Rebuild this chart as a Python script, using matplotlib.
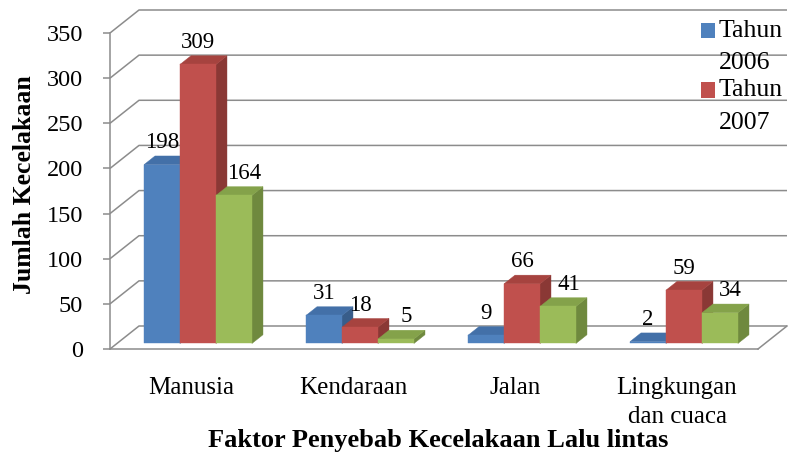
import matplotlib
matplotlib.use("Agg")
import matplotlib.pyplot as plt
from matplotlib.patches import Polygon, Rectangle
from matplotlib.legend_handler import HandlerPatch

# ---- data ----
categories = ["Manusia", "Kendaraan", "Jalan", "Lingkungan\ndan cuaca"]
series_names = ["Tahun\n2006", "Tahun\n2007"]
tahun_2006 = [198, 31, 9, 2]
tahun_2007 = [309, 18, 66, 59]
tahun_2008 = [164, 5, 41, 34]
y_ticks = [0, 50, 100, 150, 200, 250, 300, 350]
x_title = "Faktor Penyebab Kecelakaan Lalu lintas"
y_title = "Jumlah Kecelakaan"

plt.rcParams['font.family'] = ['Liberation Serif', 'DejaVu Serif']

front_c = ['#4F81BD', '#C0504D', '#9BBB59']
side_c = ['#385D8A', '#8A3835', '#6F893E']
top_c = ['#4370A8', '#A6433F', '#84A24A']
grid_c = '#8C8C8C'
lw = 1.1

fig = plt.figure(figsize=(7.9, 4.57), dpi=100)
ax = fig.add_axes([110 / 790, 108 / 457, 648 / 790, 316 / 457])
ax.set_xlim(-0.5, 3.5)
ax.set_ylim(0, 350)

PX_X = 648 / 4
PX_Y = 316 / 350
DX = 29 / PX_X
DY = 23 / PX_Y
f0, f1 = 0.24, 0.62
bw = 1 / 4.5

# back wall grid + side wall diagonals
for v in y_ticks:
    ax.plot([-0.5, -0.5 + DX, 3.5 + DX], [v, v + DY, v + DY], color=grid_c, lw=lw,
            clip_on=False, zorder=1, solid_capstyle='butt')
# floor right edge
ax.plot([3.5, 3.5 + DX], [0, DY], color=grid_c, lw=lw, clip_on=False, zorder=1)

series = [tahun_2006, tahun_2007, tahun_2008]
label_dx = [0.0, 0.0, 0.065]
for i in range(len(categories)):
    for s, vals in enumerate(series):
        v = vals[i]
        x0 = i - 1.5 * bw + s * bw
        x1 = x0 + bw
        fx0, fx1 = x0 + f0 * DX, x1 + f0 * DX
        bx0, bx1 = x0 + f1 * DX, x1 + f1 * DX
        fy, by = f0 * DY, f1 * DY
        ax.add_patch(Polygon([(fx1, fy), (bx1, by), (bx1, v + by), (fx1, v + fy)],
                             closed=True, facecolor=side_c[s], edgecolor=side_c[s],
                             lw=0.3, clip_on=False, zorder=2))
        ax.add_patch(Polygon([(fx0, v + fy), (fx1, v + fy), (bx1, v + by), (bx0, v + by)],
                             closed=True, facecolor=top_c[s], edgecolor=top_c[s],
                             lw=0.3, clip_on=False, zorder=2))
        ax.add_patch(Rectangle((fx0, fy), bw, v, facecolor=front_c[s], edgecolor=front_c[s],
                               lw=0.3, clip_on=False, zorder=2))
        ax.text((fx0 + fx1) / 2 + label_dx[s], v + fy + 22 / PX_Y, str(v),
                ha='center', va='center', fontsize=16.5, color='black', zorder=5)

# axes styling
for sp in ['top', 'right']:
    ax.spines[sp].set_visible(False)
for sp in ['left', 'bottom']:
    ax.spines[sp].set_color(grid_c)
    ax.spines[sp].set_linewidth(lw)
ax.set_yticks(y_ticks)
ax.set_yticklabels([str(t) for t in y_ticks])
ax.set_xticks(range(len(categories)))
ax.set_xticklabels(categories, linespacing=1.43)
ax.tick_params(axis='y', color=grid_c, length=5, width=lw, pad=14.5, labelsize=17.5,
               labelcolor='black')
ax.tick_params(axis='x', length=0, pad=20, labelsize=18, labelcolor='black')

ax.set_xlabel(x_title, fontsize=19, fontweight='bold')
ax.xaxis.set_label_coords(0.507, -0.253)
ax.set_ylabel(y_title, fontsize=18.5, fontweight='bold')
ax.yaxis.set_label_coords(-0.114, 0.521)
ax.patch.set_visible(False)


class FirstLineHandler(HandlerPatch):
    def create_artists(self, legend, orig_handle, xdescent, ydescent, width, height,
                       fontsize, trans):
        shift = 0.62 * fontsize
        p = Rectangle((-xdescent, -ydescent + shift), width, height,
                      facecolor=orig_handle.get_facecolor(), edgecolor='none',
                      transform=trans)
        return [p]


handles = [Rectangle((0, 0), 1, 1, facecolor=front_c[k]) for k in range(2)]
leg = ax.legend(handles, series_names, loc='upper left',
                bbox_to_anchor=(701 / 790, 1 - 20 / 457), bbox_transform=fig.transFigure,
                frameon=False, fontsize=18.5, handlelength=0.55, handleheight=0.55,
                handletextpad=0.15, labelspacing=0.2, borderpad=0, borderaxespad=0,
                handler_map={Rectangle: FirstLineHandler()})
for t in leg.get_texts():
    t.set_linespacing(1.6)

fig.savefig("out.png", dpi=100)
